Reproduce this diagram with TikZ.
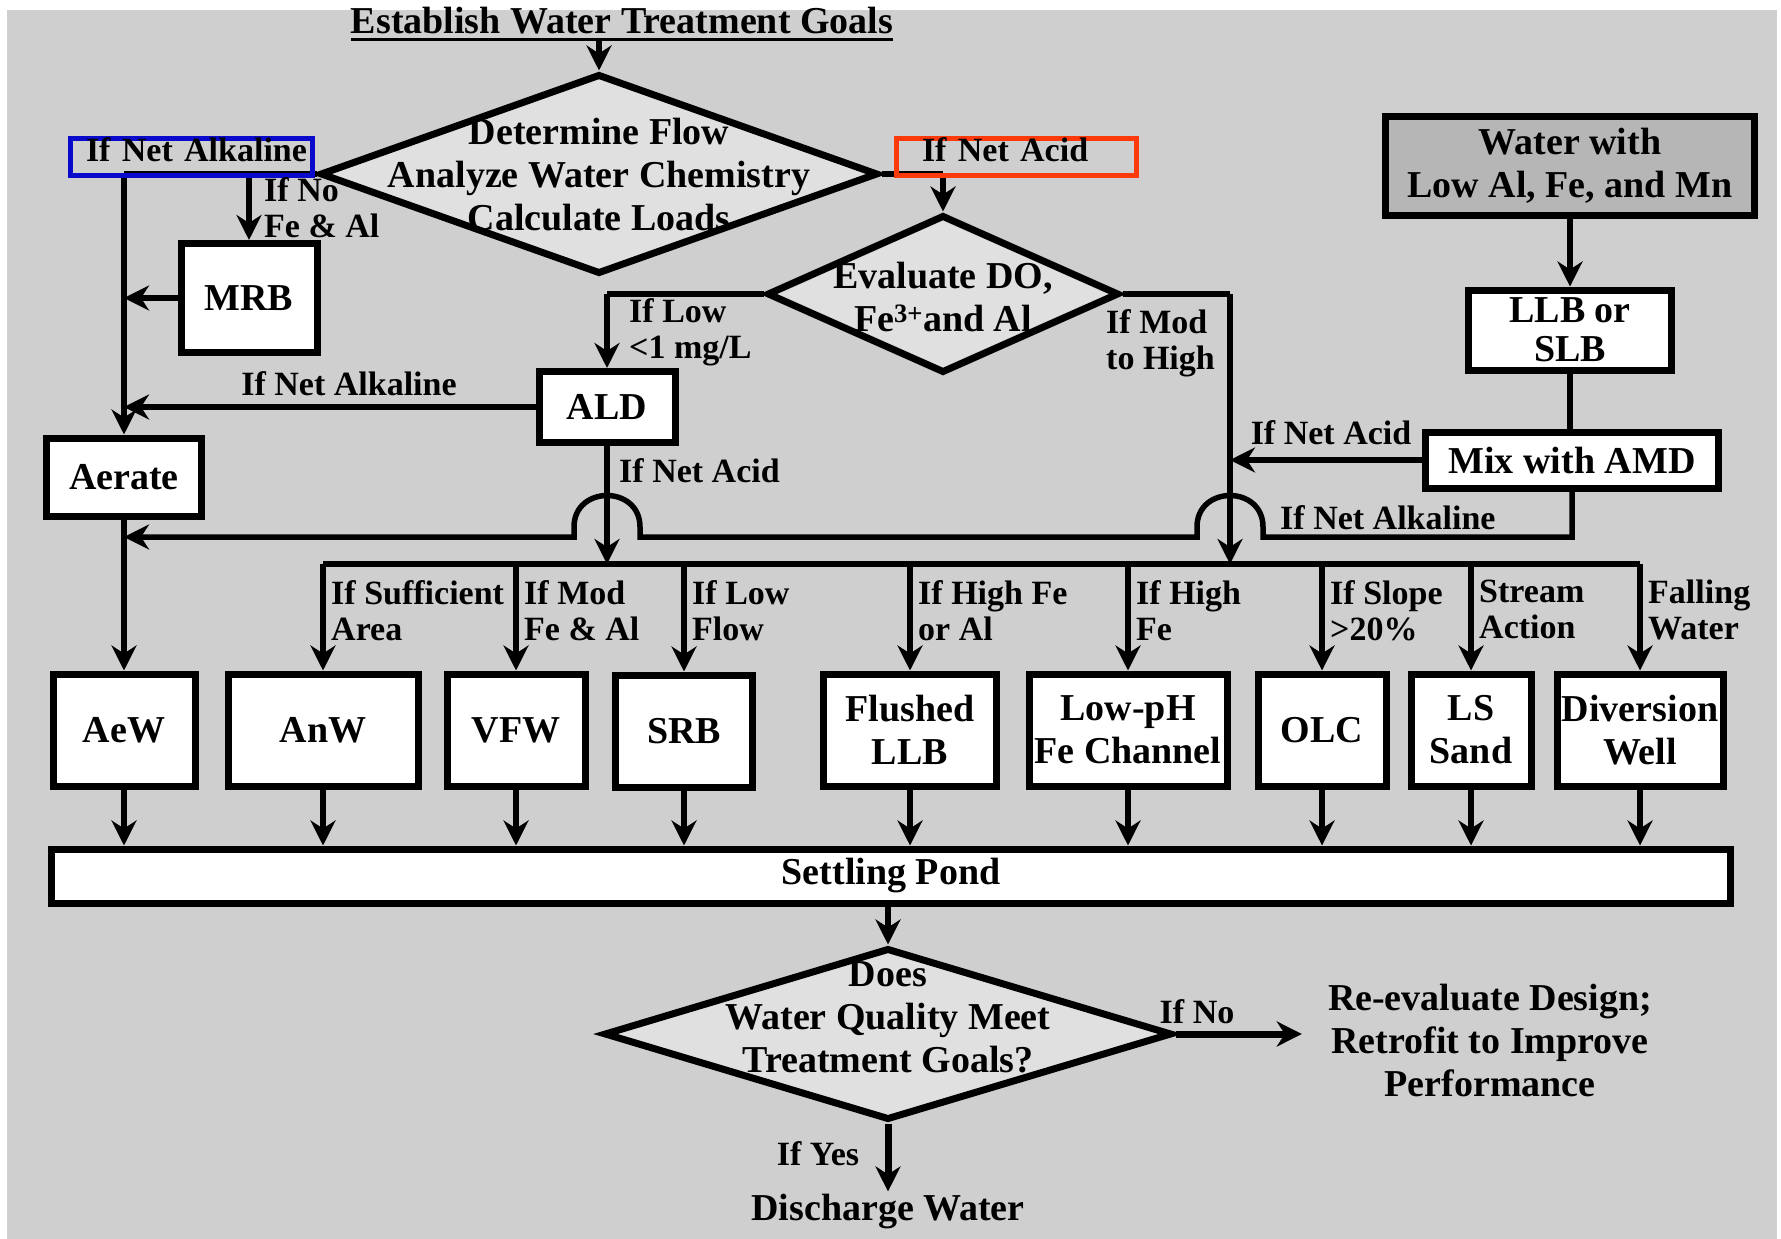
\documentclass[tikz,border=0pt]{standalone}
\usepackage{fontspec}
\setmainfont{Liberation Serif}
\usetikzlibrary{arrows.meta,calc,positioning,shapes.geometric}
\definecolor{wtink}{HTML}{000000}
\definecolor{wtback}{HTML}{CFCFCF}
\definecolor{wtpale}{HTML}{E0E0E0}
\definecolor{wtdark}{HTML}{B6B6B6}
\definecolor{wtblue}{HTML}{0A0ACC}
\definecolor{wtred}{HTML}{FF3A0A}
\tikzset{
  wt text/.style={font=\fontsize{38}{43}\selectfont\bfseries, text=wtink, align=center},
  wt label/.style={font=\fontsize{34}{36}\selectfont\bfseries, text=wtink, align=left, inner sep=2pt},
  wt box/.style={draw=wtink, line width=7pt, fill=white, inner sep=0pt, wt text},
  wt row/.style={wt box, minimum height=112pt},
  wt decision/.style={diamond, draw=wtink, line width=7pt, fill=wtpale, inner sep=0pt},
  wt arrow/.style={-{Stealth[length=25pt,width=25pt,inset=8pt]}, line width=5.5pt, draw=wtink},
  wt line/.style={line width=5.5pt, draw=wtink},
  wt mark/.style={wt label, line width=5pt, minimum height=37pt, inner sep=0pt,
    text height=20pt, text depth=12pt}
}

\begin{document}
\begin{tikzpicture}[wt text, x=1pt, y=-1pt]
  \useasboundingbox (0,0) rectangle (1781,1239);
  \fill[wtback] (7,10) rectangle (1777,1239);

  \node[inner sep=0pt, anchor=base] (goal) at (622,34) {Establish Water Treatment Goals};
  \draw[line width=3pt] ($(goal.base west)+(0,6)$) -- ($(goal.base east)+(0,6)$);
  \coordinate (goal-rule) at ($(goal.base)+(0,6)$);

  % decisions
  \node[wt decision, minimum width=558pt, minimum height=200pt] (dflow) at (599,174) {};
  \node (dflow-t) at (599,175) {Determine Flow\\Analyze Water Chemistry\\Calculate Loads};
  \node[wt decision, minimum width=352pt, minimum height=158pt] (ddo) at (943,294) {};
  \node (ddo-t) at (943,297) {Evaluate DO,\\Fe\textsuperscript{3+}and Al};
  \node[wt decision, minimum width=568pt, minimum height=172pt] (dgoal) at (888,1034) {};
  \node (dgoal-t) at (888,1017) {Does\\Water Quality Meet\\Treatment Goals?};

  % upper boxes
  \node[wt box, minimum width=136pt, minimum height=109pt] (mrb) at (249,298) {MRB};
  \node[wt box, minimum width=136pt, minimum height=71pt] (ald) at (607,407) {ALD};
  \node[wt box, minimum width=155pt, minimum height=78pt] (aerate) at (124,477) {Aerate};
  \node[wt box, fill=wtdark, minimum width=369pt, minimum height=99pt] (water) at (1570,166) {Water with\\Low Al, Fe, and Mn};
  \node[wt box, minimum width=203pt, minimum height=80pt, font=\fontsize{38}{39}\selectfont\bfseries] (llb) at (1570,330) {LLB or\\SLB};
  \node[wt box, minimum width=293pt, minimum height=56pt] (mix) at (1572,460) {Mix with AMD};

  % treatment row
  \node[wt row, minimum width=142pt] (aew) at (124,730) {AeW};
  \node[wt row, minimum width=190pt] (anw) at (323,730) {AnW};
  \node[wt row, minimum width=138pt] (vfw) at (516,730) {VFW};
  \node[wt row, minimum width=137pt] (srb) at (684,731) {SRB};
  \node[wt row, minimum width=173pt] (flushed) at (910,730) {Flushed\\LLB};
  \node[wt row, minimum width=198pt] (lowph) at (1128,730) {Low-pH\\Fe Channel};
  \node[wt row, minimum width=128pt] (olc) at (1322,730) {OLC};
  \node[wt row, minimum width=120pt] (lssand) at (1471,730) {LS\\Sand};
  \node[wt row, minimum width=166pt] (divwell) at (1640,730) {Diversion\\Well};
  \node[wt box, minimum width=1679pt, minimum height=54pt] (pond) at (891,876) {Settling Pond};

  \node[inner sep=0pt] (redo) at (1490,1040) {Re-evaluate Design;\\Retrofit to Improve\\Performance};
  \node[inner sep=2pt, anchor=base] (discharge) at (888,1220) {Discharge Water};

  \coordinate (hi-turn) at (1230,294);
  \coordinate (hop) at (0,537);
  \coordinate (bus) at (0,564);

  % connectors
  \draw[wt arrow] (goal-rule -| dflow.north) -- (dflow.north);
  \draw[wt line] (dflow.west) -- (aerate.north |- dflow.west);
  \draw[wt arrow] (aerate.north |- dflow.west) -- (aerate.north);
  \draw[wt arrow] (mrb.north |- dflow.west) -- (mrb.north);
  \draw[wt arrow] (mrb.west) -- (mrb.west -| aerate.north);
  \draw[wt arrow] (ald.west) -- (ald.west -| aerate.north);
  \draw[wt line] (dflow.east) -- (ddo.north |- dflow.east);
  \draw[wt arrow] (ddo.north |- dflow.east) -- (ddo.north);
  \draw[wt line] (ddo.west) -- (ald.north |- ddo.west);
  \draw[wt arrow] (ald.north |- ddo.west) -- (ald.north);
  \draw[wt line] (ddo.east) -- (hi-turn);
  \draw[wt arrow] (hi-turn) -- (hi-turn |- bus);
  \draw[wt arrow] (water.south) -- (llb.north);
  \draw[wt line] (llb.south) -- (llb.south |- mix.north);
  \draw[wt arrow] (mix.west) -- (mix.west -| hi-turn);
  \draw[wt arrow] (mix.south) -- (mix.south |- hop)
    -- ($(hi-turn |- hop)+(33,0)$) -- ($(hi-turn |- hop)+(33,-10)$)
    .. controls ($(hi-turn |- hop)+(33,-52)$) and ($(hi-turn |- hop)+(-33,-52)$) .. ($(hi-turn |- hop)+(-33,-10)$)
    -- ($(hi-turn |- hop)+(-33,0)$)
    -- ($(ald.south |- hop)+(33,0)$) -- ($(ald.south |- hop)+(33,-10)$)
    .. controls ($(ald.south |- hop)+(33,-52)$) and ($(ald.south |- hop)+(-33,-52)$) .. ($(ald.south |- hop)+(-33,-10)$)
    -- ($(ald.south |- hop)+(-33,0)$)
    -- (aerate.south |- hop);
  \draw[wt arrow] (ald.south) -- (ald.south |- bus);
  \draw[wt arrow] (aerate.south) -- (aew.north);
  \draw[wt line] (anw.north |- bus) -- (divwell.north |- bus);
  \foreach \b in {anw,vfw,srb,flushed,lowph,olc,lssand,divwell}
    \draw[wt arrow] (\b.north |- bus) -- (\b.north);
  \foreach \b in {aew,anw,vfw,srb,flushed,lowph,olc,lssand,divwell}
    \draw[wt arrow] (\b.south) -- (\b.south |- pond.north);
  \draw[wt arrow] (dgoal.north |- pond.south) -- (dgoal.north);
  \draw[wt arrow, line width=7pt] (dgoal.east) -- ($(redo.west |- dgoal.east)+(-26,0)$);
  \draw[wt arrow, line width=7pt] (dgoal.south) -- (dgoal.south |- discharge.north);

  % labels
  \node[wt mark, draw=wtblue, minimum width=242pt, text width=232pt, align=right] (alk-mark) at (191,157) {If Net Alkaline};
  \node[wt mark, draw=wtred, minimum width=240pt, text width=188pt] (acid-mark) at (1016,157) {If Net Acid};
  \node[wt label, anchor=north west] (lbl-nofe) at (262,175) {If No\\Fe \& Al};
  \node[wt label, anchor=base] (lbl-alk) at (349,395) {If Net Alkaline};
  \node[wt label, anchor=north west] (lbl-low) at (627,296) {If Low\\<1 mg/L};
  \node[wt label, anchor=north west] (lbl-mod) at (1104,307) {If Mod\\to High};
  \node[wt label, anchor=base] (lbl-mixacid) at (1331,444) {If Net Acid};
  \node[wt label, anchor=base west] (lbl-mixalk) at (1278,529) {If Net Alkaline};
  \node[wt label, anchor=base west] (lbl-aldacid) at (617,482) {If Net Acid};
  \foreach \b/\t in {anw/{If Sufficient\\Area}, vfw/{If Mod\\Fe \& Al}, srb/{If Low\\Flow},
      flushed/{If High Fe\\or Al}, lowph/{If High\\Fe}, olc/{If Slope\\>20\%},
      lssand/{Stream\\Action}, divwell/{Falling\\Water}}
    \node[wt label, anchor=north west] (lbl-\b) at ($(\b.north |- bus)+(6,14)$) {\t};
  \node[wt label, anchor=base] (lbl-no) at (1197,1023) {If No};
  \node[wt label, anchor=base] (lbl-yes) at (818,1165) {If Yes};
\end{tikzpicture}
\end{document}
